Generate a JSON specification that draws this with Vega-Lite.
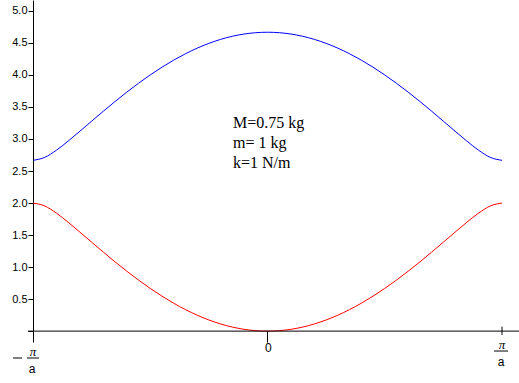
{
  "$schema": "https://vega.github.io/schema/vega-lite/v6.json",
  "width": 486,
  "height": 342,
  "autosize": {"type": "none"},
  "padding": {"left": 33, "top": 0, "right": 0, "bottom": 41},
  "background": "white",
  "config": {
    "view": {"stroke": null},
    "axisY": {"format": ".1f", "title": null, "grid": false, "tickCount": 11,
      "labelExpr": "datum.value < 0.1 ? '' : datum.label",
      "labelOverlap": false, "labelFlush": false, "labelBound": false,
      "domainColor": "black", "domainWidth": 1, "tickColor": "black", "tickSize": 5, "tickWidth": 1,
      "labelFont": "Liberation Sans", "labelFontSize": 11, "labelColor": "black", "labelPadding": 1}
  },
  "datasets": {
    "curves": [
      {"t": -1.0, "w": 2.6667, "branch": "optical"},
      {"t": -0.95, "w": 2.7127, "branch": "optical"},
      {"t": -0.9, "w": 2.8249, "branch": "optical"},
      {"t": -0.85, "w": 2.9672, "branch": "optical"},
      {"t": -0.8, "w": 3.121, "branch": "optical"},
      {"t": -0.75, "w": 3.2779, "branch": "optical"},
      {"t": -0.7, "w": 3.4335, "branch": "optical"},
      {"t": -0.65, "w": 3.5852, "branch": "optical"},
      {"t": -0.6, "w": 3.7311, "branch": "optical"},
      {"t": -0.55, "w": 3.8698, "branch": "optical"},
      {"t": -0.5, "w": 4.0, "branch": "optical"},
      {"t": -0.45, "w": 4.1208, "branch": "optical"},
      {"t": -0.4, "w": 4.2312, "branch": "optical"},
      {"t": -0.35, "w": 4.3304, "branch": "optical"},
      {"t": -0.3, "w": 4.4179, "branch": "optical"},
      {"t": -0.25, "w": 4.4928, "branch": "optical"},
      {"t": -0.2, "w": 4.5549, "branch": "optical"},
      {"t": -0.15, "w": 4.6035, "branch": "optical"},
      {"t": -0.1, "w": 4.6385, "branch": "optical"},
      {"t": -0.05, "w": 4.6596, "branch": "optical"},
      {"t": 0.0, "w": 4.6667, "branch": "optical"},
      {"t": 0.05, "w": 4.6596, "branch": "optical"},
      {"t": 0.1, "w": 4.6385, "branch": "optical"},
      {"t": 0.15, "w": 4.6035, "branch": "optical"},
      {"t": 0.2, "w": 4.5549, "branch": "optical"},
      {"t": 0.25, "w": 4.4928, "branch": "optical"},
      {"t": 0.3, "w": 4.4179, "branch": "optical"},
      {"t": 0.35, "w": 4.3304, "branch": "optical"},
      {"t": 0.4, "w": 4.2312, "branch": "optical"},
      {"t": 0.45, "w": 4.1208, "branch": "optical"},
      {"t": 0.5, "w": 4.0, "branch": "optical"},
      {"t": 0.55, "w": 3.8698, "branch": "optical"},
      {"t": 0.6, "w": 3.7311, "branch": "optical"},
      {"t": 0.65, "w": 3.5852, "branch": "optical"},
      {"t": 0.7, "w": 3.4335, "branch": "optical"},
      {"t": 0.75, "w": 3.2779, "branch": "optical"},
      {"t": 0.8, "w": 3.121, "branch": "optical"},
      {"t": 0.85, "w": 2.9672, "branch": "optical"},
      {"t": 0.9, "w": 2.8249, "branch": "optical"},
      {"t": 0.95, "w": 2.7127, "branch": "optical"},
      {"t": 1.0, "w": 2.6667, "branch": "optical"},
      {"t": -1.0, "w": 2.0, "branch": "acoustic"},
      {"t": -0.95, "w": 1.9539, "branch": "acoustic"},
      {"t": -0.9, "w": 1.8418, "branch": "acoustic"},
      {"t": -0.85, "w": 1.6995, "branch": "acoustic"},
      {"t": -0.8, "w": 1.5457, "branch": "acoustic"},
      {"t": -0.75, "w": 1.3888, "branch": "acoustic"},
      {"t": -0.7, "w": 1.2332, "branch": "acoustic"},
      {"t": -0.65, "w": 1.0815, "branch": "acoustic"},
      {"t": -0.6, "w": 0.9356, "branch": "acoustic"},
      {"t": -0.55, "w": 0.7969, "branch": "acoustic"},
      {"t": -0.5, "w": 0.6667, "branch": "acoustic"},
      {"t": -0.45, "w": 0.5459, "branch": "acoustic"},
      {"t": -0.4, "w": 0.4355, "branch": "acoustic"},
      {"t": -0.35, "w": 0.3362, "branch": "acoustic"},
      {"t": -0.3, "w": 0.2488, "branch": "acoustic"},
      {"t": -0.25, "w": 0.1738, "branch": "acoustic"},
      {"t": -0.2, "w": 0.1118, "branch": "acoustic"},
      {"t": -0.15, "w": 0.0631, "branch": "acoustic"},
      {"t": -0.1, "w": 0.0281, "branch": "acoustic"},
      {"t": -0.05, "w": 0.007, "branch": "acoustic"},
      {"t": 0.0, "w": 0.0, "branch": "acoustic"},
      {"t": 0.05, "w": 0.007, "branch": "acoustic"},
      {"t": 0.1, "w": 0.0281, "branch": "acoustic"},
      {"t": 0.15, "w": 0.0631, "branch": "acoustic"},
      {"t": 0.2, "w": 0.1118, "branch": "acoustic"},
      {"t": 0.25, "w": 0.1738, "branch": "acoustic"},
      {"t": 0.3, "w": 0.2488, "branch": "acoustic"},
      {"t": 0.35, "w": 0.3362, "branch": "acoustic"},
      {"t": 0.4, "w": 0.4355, "branch": "acoustic"},
      {"t": 0.45, "w": 0.5459, "branch": "acoustic"},
      {"t": 0.5, "w": 0.6667, "branch": "acoustic"},
      {"t": 0.55, "w": 0.7969, "branch": "acoustic"},
      {"t": 0.6, "w": 0.9356, "branch": "acoustic"},
      {"t": 0.65, "w": 1.0815, "branch": "acoustic"},
      {"t": 0.7, "w": 1.2332, "branch": "acoustic"},
      {"t": 0.75, "w": 1.3888, "branch": "acoustic"},
      {"t": 0.8, "w": 1.5457, "branch": "acoustic"},
      {"t": 0.85, "w": 1.6995, "branch": "acoustic"},
      {"t": 0.9, "w": 1.8418, "branch": "acoustic"},
      {"t": 0.95, "w": 1.9539, "branch": "acoustic"},
      {"t": 1.0, "w": 2.0, "branch": "acoustic"}
    ],
    "rules": [
      {"x": -1.021, "x2": 1.0725, "y": 0, "y2": 0},
      {"x": 0, "x2": 0, "y": 0, "y2": -0.18},
      {"x": 1, "x2": 1, "y": 0.07, "y2": -0.06},
      {"x": 0.966, "x2": 1.026, "y": -0.311, "y2": -0.311},
      {"x": -1.026, "x2": -0.974, "y": -0.42, "y2": -0.42},
      {"x": -1.085, "x2": -1.047, "y": -0.42, "y2": -0.42}
    ],
    "texts": [
      {"x": -0.147, "y": 3.172, "label": "M=0.75 kg", "kind": "note"},
      {"x": -0.147, "y": 2.859, "label": "m= 1 kg", "kind": "note"},
      {"x": -0.147, "y": 2.547, "label": "k=1 N/m", "kind": "note"},
      {"x": 1.0, "y": -0.217, "label": "π", "kind": "pi"},
      {"x": -1.0, "y": -0.326, "label": "π", "kind": "pi"},
      {"x": 0.996, "y": -0.482, "label": "a", "kind": "tick"},
      {"x": -1.004, "y": -0.592, "label": "a", "kind": "tick"},
      {"x": 0.004, "y": -0.264, "label": "0", "kind": "tick"}
    ]
  },
  "layer": [
    {
      "data": {"name": "curves"},
      "mark": {"type": "line", "strokeWidth": 1, "clip": true, "interpolate": "monotone"},
      "encoding": {
        "x": {"field": "t", "type": "quantitative", "scale": {"domain": [-1, 1.0725], "nice": false, "zero": false}, "axis": null},
        "y": {"field": "w", "type": "quantitative", "scale": {"domain": [-0.17, 5.17], "nice": false, "zero": false}},
        "color": {"field": "branch", "type": "nominal", "scale": {"domain": ["optical", "acoustic"], "range": ["#0000FF", "#FF0000"]}, "legend": null},
        "detail": {"field": "branch"}
      }
    },
    {
      "data": {"name": "rules"},
      "mark": {"type": "rule", "color": "black", "strokeWidth": 1, "clip": false},
      "encoding": {
        "x": {"field": "x", "type": "quantitative"},
        "x2": {"field": "x2"},
        "y": {"field": "y", "type": "quantitative"},
        "y2": {"field": "y2"}
      }
    },
    {
      "data": {"name": "texts"},
      "transform": [{"filter": "datum.kind == 'note'"}],
      "mark": {"type": "text", "font": "Liberation Serif", "fontSize": 16, "align": "left", "baseline": "alphabetic", "color": "black", "clip": false},
      "encoding": {
        "x": {"field": "x", "type": "quantitative"},
        "y": {"field": "y", "type": "quantitative"},
        "text": {"field": "label"}
      }
    },
    {
      "data": {"name": "texts"},
      "transform": [{"filter": "datum.kind == 'pi'"}],
      "mark": {"type": "text", "font": "Liberation Serif", "fontStyle": "italic", "fontSize": 13, "align": "center", "baseline": "middle", "color": "black", "clip": false},
      "encoding": {
        "x": {"field": "x", "type": "quantitative"},
        "y": {"field": "y", "type": "quantitative"},
        "text": {"field": "label"}
      }
    },
    {
      "data": {"name": "texts"},
      "transform": [{"filter": "datum.kind == 'tick'"}],
      "mark": {"type": "text", "font": "Liberation Sans", "fontSize": 12, "align": "center", "baseline": "middle", "color": "black", "clip": false},
      "encoding": {
        "x": {"field": "x", "type": "quantitative"},
        "y": {"field": "y", "type": "quantitative"},
        "text": {"field": "label"}
      }
    }
  ]
}
